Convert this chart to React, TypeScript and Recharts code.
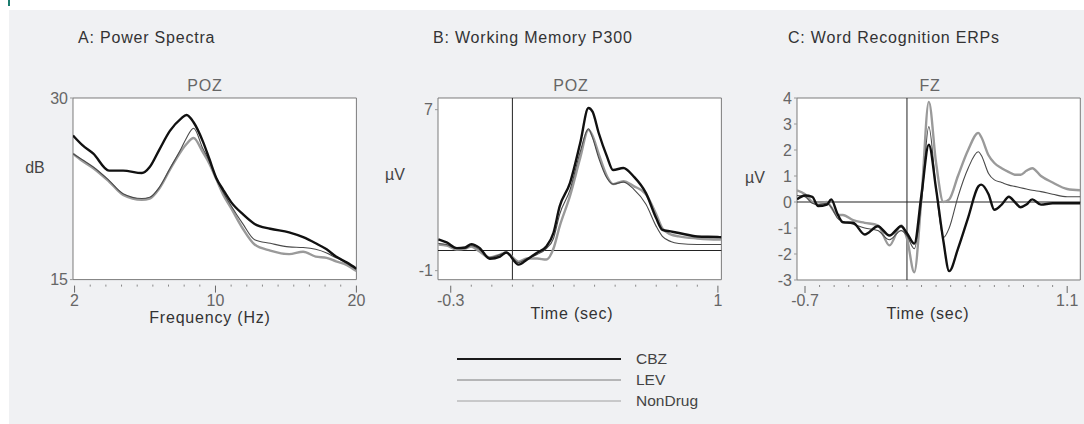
import React from 'react';
import { LineChart, Line, XAxis, YAxis, CartesianGrid, ReferenceLine } from 'recharts';

const FONT = '"Liberation Sans", Arial, sans-serif';

// series, in legend order
const seriesNames = ['CBZ', 'LEV', 'NonDrug'];
const seriesKeys = ['cbz', 'lev', 'non'];
const plotColors = ['#111111', '#4a4a4a', '#9a9a9a'];
const plotWidths = [2.4, 1.1, 2.4];
const legendColors = ['#1a1a1a', '#7a7a7a', '#a0a0a0'];
const legendWidths = [2, 1, 1];

// A: power spectra. x = position on the frequency axis (0 = 2 Hz, 9 = 10 Hz, 18 = 20 Hz)
const psdBins = [-0.1, 0.5, 1.2, 2.2, 3.1, 4.3, 4.8, 5.4, 6.1, 6.8, 7.15, 7.6, 8.2, 8.6, 9.05, 9.5, 10, 10.75, 11.5, 12.5, 13.7, 14.6, 15.4, 16.1, 16.7, 17.4, 18];
const psdCbz = [26.9, 26.1, 25.4, 24.0, 24.0, 23.8, 24.3, 25.7, 27.3, 28.3, 28.6, 28.0, 26.4, 25.0, 23.4, 22.4, 21.4, 20.4, 19.6, 19.2, 18.9, 18.5, 18.0, 17.5, 16.9, 16.4, 15.9];
const psdLev = [25.4, 24.9, 24.3, 23.2, 22.1, 21.7, 21.8, 22.6, 24.2, 25.8, 26.7, 27.5, 25.8, 24.8, 23.4, 22.2, 21.1, 19.6, 18.3, 18.0, 17.7, 17.65, 17.5, 17.2, 16.8, 16.4, 15.9];
const psdNon = [25.4, 24.8, 24.2, 23.1, 22.0, 21.6, 21.7, 22.5, 24.1, 25.6, 26.2, 26.7, 25.5, 24.6, 23.3, 22.0, 20.9, 19.2, 17.9, 17.4, 17.1, 17.3, 16.9, 16.8, 16.5, 16.2, 15.7];
const psdTicks = [0, 1, 2, 3, 4, 5, 6, 7, 8, 9, 10, 11, 12, 13, 14, 15, 16, 17, 18];
const psdMajor = [{ v: 0, label: '2' }, { v: 9, label: '10' }, { v: 18, label: '20' }];

// B: working memory P300 (sec, uV)
const p300Time = [-0.36, -0.32, -0.27, -0.23, -0.2, -0.16, -0.11, -0.06, -0.03, 0.03, 0.07, 0.12, 0.165, 0.2, 0.23, 0.28, 0.33, 0.37, 0.39, 0.42, 0.46, 0.49, 0.54, 0.59, 0.65, 0.7, 0.73, 0.77, 0.81, 0.9, 1.0, 1.017];
const p300Cbz = [0.55, 0.4, 0.12, 0.15, 0.32, 0.13, -0.41, -0.3, -0.1, -0.7, -0.46, -0.11, 0.2, 0.88, 2.19, 3.35, 5.34, 7.08, 6.9, 5.84, 4.68, 4.0, 4.1, 3.68, 2.85, 1.6, 1.03, 0.95, 0.87, 0.7, 0.67, 0.66];
const p300Lev = [0.35, 0.3, 0.1, 0.1, 0.25, 0.05, -0.35, -0.2, -0.1, -0.6, -0.4, -0.2, 0.1, 0.6, 1.8, 3.0, 4.9, 6.05, 5.6, 4.6, 3.6, 3.3, 3.4, 3.05, 2.3, 1.2, 0.7, 0.45, 0.35, 0.3, 0.3, 0.3];
const p300Non = [0.3, 0.25, 0.05, 0.1, 0.2, -0.05, -0.35, -0.2, -0.1, -0.55, -0.4, -0.4, -0.45, 0.1, 1.2, 2.7, 4.6, 6.0, 5.7, 4.8, 3.7, 3.3, 3.45, 3.2, 2.8, 1.8, 1.1, 0.8, 0.7, 0.6, 0.55, 0.55];
const p300Ticks = [-0.3, -0.2, -0.1, 0, 0.1, 0.2, 0.3, 0.4, 0.5, 0.6, 0.7, 0.8, 0.9, 1.0];
const p300Major = [{ v: -0.3, label: '-0.3' }, { v: 1.0, label: '1' }];

// C: word recognition ERPs (sec, uV)
const wordTime = [-0.755, -0.7, -0.65, -0.61, -0.55, -0.52, -0.48, -0.44, -0.37, -0.29, -0.2, -0.12, -0.04, 0.0, 0.05, 0.1, 0.15, 0.2, 0.25, 0.29, 0.35, 0.42, 0.49, 0.51, 0.56, 0.6, 0.65, 0.7, 0.74, 0.78, 0.82, 0.86, 0.92, 1.0, 1.1, 1.19];
const wordCbz = [0.1, 0.25, 0.2, -0.16, -0.1, 0.1, -0.42, -0.78, -0.8, -1.25, -0.93, -1.29, -0.93, -1.2, -1.6, 0.3, 2.2, 0.5, -1.5, -2.66, -1.8, -0.6, 0.6, 0.67, 0.3, -0.3, -0.1, 0.2, 0.0, -0.2, -0.1, 0.1, -0.1, -0.05, -0.05, -0.05];
const wordLev = [0.25, 0.2, -0.05, -0.1, -0.05, -0.2, -0.6, -0.75, -0.85, -1.0, -1.1, -1.45, -1.1, -1.3, -1.8, 0.0, 2.9, 0.5, -1.37, -1.0, 0.2, 1.3, 1.93, 1.8, 1.1, 0.85, 0.75, 0.65, 0.6, 0.55, 0.5, 0.45, 0.4, 0.3, 0.2, 0.2];
const wordNon = [0.45, 0.3, 0.0, -0.1, 0.0, -0.2, -0.5, -0.5, -0.7, -0.8, -0.9, -1.67, -0.9, -1.4, -2.7, 0.2, 3.85, 1.5, 0.0, 0.1, 1.0, 2.0, 2.66, 2.5, 1.8, 1.5, 1.3, 1.15, 1.05, 1.05, 1.2, 1.3, 1.0, 0.75, 0.5, 0.45];
const wordTicks = [-0.7, -0.6, -0.5, -0.4, -0.3, -0.2, -0.1, 0, 0.1, 0.2, 0.3, 0.4, 0.5, 0.6, 0.7, 0.8, 0.9, 1.0, 1.1];
const wordMajor = [{ v: -0.7, label: '-0.7' }, { v: 1.1, label: '1.1' }];

const rowsOf = (xs: number[], a: number[], b: number[], c: number[]) =>
  xs.map((x, i) => ({ x, cbz: a[i], lev: b[i], non: c[i] }));

const psdRows = rowsOf(psdBins, psdCbz, psdLev, psdNon);
const p300Rows = rowsOf(p300Time, p300Cbz, p300Lev, p300Non);
const wordRows = rowsOf(wordTime, wordCbz, wordLev, wordNon);

function xTick(major: { v: number; label: string }[]) {
  return (props: any) => {
    const { x, y, payload } = props;
    const m = major.find((d) => Math.abs(d.v - payload.value) < 1e-6);
    if (m) {
      return (
        <g>
          <line x1={x} x2={x} y1={y + 6} y2={y + 13} stroke="#666" />
          <text x={x} y={y + 26} textAnchor="middle" fontSize={16} fill="#666" fontFamily={FONT}>
            {m.label}
          </text>
        </g>
      );
    }
    return <line x1={x} x2={x} y1={y + 5} y2={y + 7} stroke="#888" />;
  };
}

// box round the plot area: grid lines only at the four edges
const edgeRows = ({ offset }: any) => [offset.top, offset.top + offset.height];
const edgeCols = ({ offset }: any) => [offset.left, offset.left + offset.width];

type PanelProps = {
  rows: any[];
  box: [number, number, number, number];
  xDomain: [number, number];
  yDomain: [number, number];
  xTicks: number[];
  major: { v: number; label: string }[];
  yTicks: number[];
  zeroLines?: boolean;
};

function Panel({ rows, box, xDomain, yDomain, xTicks, major, yTicks, zeroLines }: PanelProps) {
  const [l, t, r, b] = box;
  return (
    <div style={{ position: 'absolute', left: l - 60, top: t - 10 }}>
      <LineChart width={r - l + 70} height={b - t + 60} data={rows} margin={{ top: 10, right: 10, left: 20, bottom: 10 }}>
        <CartesianGrid fill="#fff" stroke="#7a7a7a" horizontalCoordinatesGenerator={edgeRows}
          verticalCoordinatesGenerator={edgeCols} />
        <XAxis dataKey="x" type="number" domain={xDomain} allowDataOverflow ticks={xTicks} interval={0}
          height={40} tickSize={0} tickMargin={0} tickLine={false} axisLine={false} tick={xTick(major)} />
        <YAxis type="number" domain={yDomain} allowDataOverflow ticks={yTicks} interval={0} width={40}
          tickSize={3} tickMargin={2} tickLine={{ stroke: '#999' }} axisLine={false}
          tick={{ fontSize: 16, fill: '#666', fontFamily: FONT }} />
        {zeroLines && <ReferenceLine x={0} stroke="#222" />}
        {zeroLines && <ReferenceLine y={0} stroke="#222" />}
        {[2, 1, 0].map((i) => (
          <Line key={seriesKeys[i]} dataKey={seriesKeys[i]} name={seriesNames[i]} type="monotone"
            stroke={plotColors[i]} strokeWidth={plotWidths[i]} dot={false} isAnimationActive={false} />
        ))}
      </LineChart>
    </div>
  );
}

function Txt({ x, y, children, size = 16, color = '#333', center = false, spacing = 0.8 }: any) {
  return (
    <div style={{
      position: 'absolute', left: x, top: y - 9, lineHeight: '18px', fontSize: size, color,
      fontFamily: FONT, letterSpacing: spacing, whiteSpace: 'nowrap',
      transform: center ? 'translateX(-50%)' : undefined,
    }}>{children}</div>
  );
}

export default function App() {
  return (
    <div style={{ position: 'absolute', left: 0, top: 0, width: 1084, height: 424, background: '#fff', overflow: 'hidden' }}>
      <div style={{ position: 'absolute', left: 8, top: 0, width: 2, height: 6, background: '#1b7b6e' }} />
      <div style={{ position: 'absolute', left: 9, top: 10, width: 1075, height: 414, background: '#f0f1f3' }} />

      <Txt x={78} y={38} color="#333">A: Power Spectra</Txt>
      <Txt x={433} y={38} color="#333">B: Working Memory P300</Txt>
      <Txt x={788} y={38} color="#333">C: Word Recognition ERPs</Txt>

      <Txt x={205} y={86} color="#666" center>POZ</Txt>
      <Txt x={571} y={86} color="#666" center>POZ</Txt>
      <Txt x={930} y={86} color="#666" center>FZ</Txt>

      <Txt x={35} y={168} color="#444" center spacing={0}>dB</Txt>
      <Txt x={395} y={175} color="#444" center spacing={0}>µV</Txt>
      <Txt x={755} y={178} color="#444" center spacing={0}>µV</Txt>

      <Panel rows={psdRows} box={[73.3, 97.7, 356.7, 279.3]} xDomain={[-0.1, 18]} yDomain={[15, 30]}
        xTicks={psdTicks} major={psdMajor} yTicks={[15, 30]} />
      <Panel rows={p300Rows} box={[438.3, 98.3, 721.7, 280]} xDomain={[-0.362, 1.017]} yDomain={[-1.45, 7.58]}
        xTicks={p300Ticks} major={p300Major} yTicks={[-1, 7]} zeroLines />
      <Panel rows={wordRows} box={[796.7, 98, 1080, 280]} xDomain={[-0.755, 1.19]} yDomain={[-3, 4]}
        xTicks={wordTicks} major={wordMajor} yTicks={[-3, -2, -1, 0, 1, 2, 3, 4]} zeroLines />

      <Txt x={210} y={318} color="#333" center>Frequency (Hz)</Txt>
      <Txt x={572} y={314} color="#333" center>Time (sec)</Txt>
      <Txt x={928} y={314} color="#333" center>Time (sec)</Txt>

      <svg width={1084} height={424} style={{ position: 'absolute', left: 0, top: 0 }}>
        {seriesNames.map((n, i) => (
          <g key={n}>
            <line x1={457} x2={621} y1={359 + i * 21} y2={359 + i * 21} stroke={legendColors[i]} strokeWidth={legendWidths[i]} />
            <text x={636} y={359 + i * 21 + 5} fontSize={15.5} fill="#444" fontFamily={FONT}>{n}</text>
          </g>
        ))}
      </svg>
    </div>
  );
}
